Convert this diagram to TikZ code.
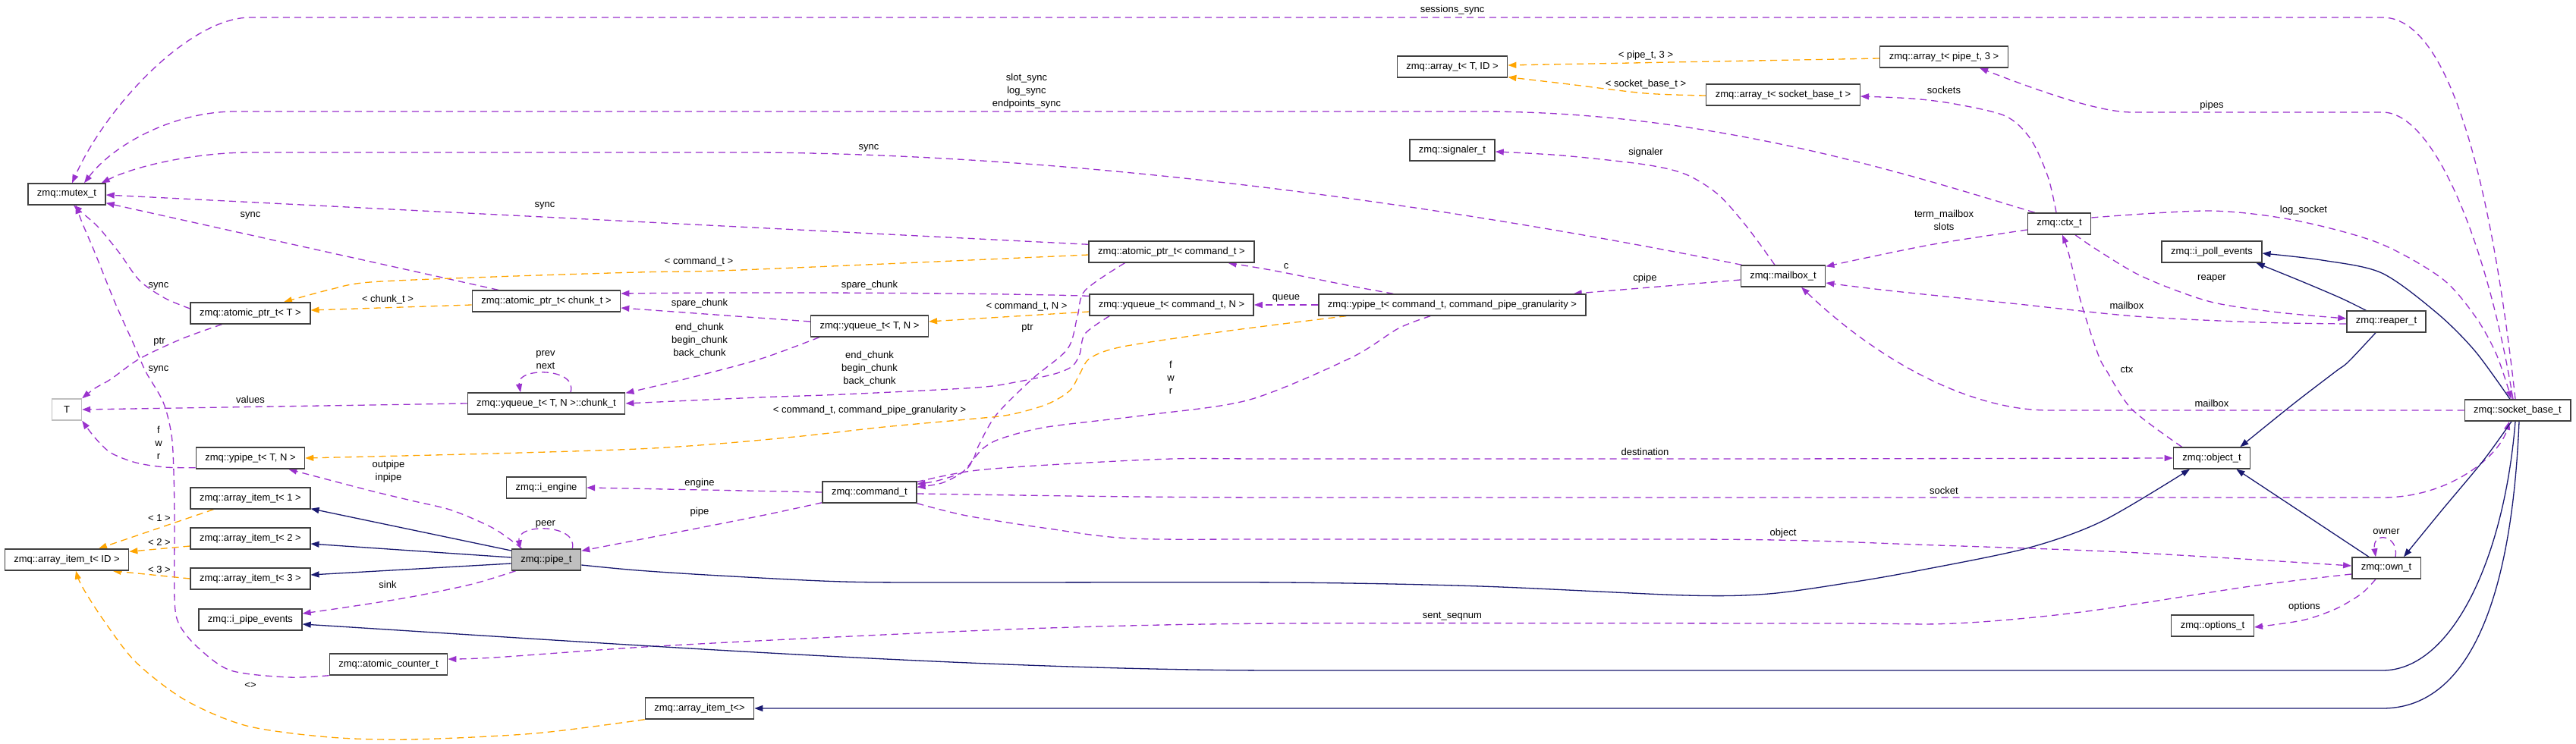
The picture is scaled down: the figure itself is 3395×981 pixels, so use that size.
\documentclass[tikz,border=0pt]{standalone}
\usepackage{fontspec}
\setmainfont{Liberation Sans}
\usetikzlibrary{arrows.meta,calc}
\definecolor{usecol}{HTML}{9A32CD}
\definecolor{tmplcol}{HTML}{FFA500}
\definecolor{inhcol}{HTML}{191970}
\definecolor{boxcol}{HTML}{404040}
\pgfdeclarelayer{bgfill}
\pgfdeclarelayer{edges}
\pgfsetlayers{bgfill,edges,main}
\tikzset{
  cls/.style={draw=boxcol, line width=1.4pt, fill=white, minimum height=28pt,
    inner xsep=12pt, inner ysep=0pt, font=\fontsize{13}{17.5}\selectfont},
  lbl/.style={font=\fontsize{13}{17}\selectfont, align=center, inner sep=0pt},
  tipA/.style={-{Triangle[length=11pt,width=8pt]}},
  use/.style={draw=usecol, line width=1.3pt, dash pattern=on 9pt off 6pt, tipA},
  tmpl/.style={draw=tmplcol, line width=1.3pt, dash pattern=on 9pt off 6pt, tipA},
  inh/.style={draw=inhcol, line width=1.3pt, tipA},
  sm/.style={smooth, tension=0.5}
}
\begin{document}
\begin{tikzpicture}[x=1pt,y=-1pt]
\begin{pgfonlayer}{bgfill}
\fill[white] (0,0) rectangle (3395,981);
\end{pgfonlayer}
\useasboundingbox (0,0) rectangle (3395,981);

% ---------- nodes ----------
\node[cls] (mutex) at (88,256) {zmq::mutex\_t};
\node[cls, draw=gray!50, minimum width=39pt] (T) at (88,540) {T};
\node[cls] (aitemID) at (88,738) {zmq::array\_item\_t< ID >};
\node[cls] (aptrT) at (330,413) {zmq::atomic\_ptr\_t< T >};
\node[cls] (ypipeT) at (330,604) {zmq::ypipe\_t< T, N >};
\node[cls] (ai1) at (330,657) {zmq::array\_item\_t< 1 >};
\node[cls] (ai2) at (330,710) {zmq::array\_item\_t< 2 >};
\node[cls] (ai3) at (330,763) {zmq::array\_item\_t< 3 >};
\node[cls] (ipe) at (330,817) {zmq::i\_pipe\_events};
\node[cls] (acnt) at (512,876) {zmq::atomic\_counter\_t};
\node[cls] (aptrchunk) at (720,397) {zmq::atomic\_ptr\_t< chunk\_t >};
\node[cls] (chunk) at (720,532) {zmq::yqueue\_t< T, N >::chunk\_t};
\node[cls] (iengine) at (720,643) {zmq::i\_engine};
\node[cls, fill=gray!50] (pipe) at (720,738) {zmq::pipe\_t};
\node[cls] (yqT) at (1146,430) {zmq::yqueue\_t< T, N >};
\node[cls] (command) at (1146,649) {zmq::command\_t};
\node[cls] (aitem) at (922,934) {zmq::array\_item\_t<>};
\node[cls] (aptrcmd) at (1544,332) {zmq::atomic\_ptr\_t< command\_t >};
\node[cls] (yqcmd) at (1544,402) {zmq::yqueue\_t< command\_t, N >};
\node[cls] (ypipecmd) at (1914,402) {zmq::ypipe\_t< command\_t, command\_pipe\_granularity >};
\node[cls] (arrayTID) at (1914,88) {zmq::array\_t< T, ID >};
\node[cls] (signaler) at (1914,198) {zmq::signaler\_t};
\node[cls] (arraysock) at (2350,125) {zmq::array\_t< socket\_base\_t >};
\node[cls] (mailbox) at (2350,364) {zmq::mailbox\_t};
\node[cls] (arraypipe) at (2562,75) {zmq::array\_t< pipe\_t, 3 >};
\node[cls] (ctx) at (2714,295) {zmq::ctx\_t};
\node[cls] (ipoll) at (2915,332) {zmq::i\_poll\_events};
\node[cls] (reaper) at (3145,424) {zmq::reaper\_t};
\node[cls] (socketbase) at (3318,541) {zmq::socket\_base\_t};
\node[cls] (object) at (2915,604) {zmq::object\_t};
\node[cls] (own) at (3145,749) {zmq::own\_t};
\node[cls] (options) at (2916,825) {zmq::options\_t};

% ---------- edges ----------
\begin{pgfonlayer}{edges}
% usage (purple)
\draw[use] ($(socketbase.north)+(-3,0)$) .. controls (3290,300) and (3240,23) .. (3140,23) -- (330,23) .. controls (250,23) and (140,140) .. ($(mutex.north)+(7,0)$);
\draw[use] ($(ctx.north west)+(10,0)$) .. controls (2500,225) and (2250,147) .. (1950,147) -- (310,147) .. controls (230,147) and (150,190) .. ($(mutex.north)+(23,0)$);
\draw[use] ($(mailbox.north west)+(2,0)$) .. controls (2000,290) and (1500,205) .. (1000,201) -- (330,201) .. controls (260,201) and (180,218) .. ($(mutex.north east)+(-6,0)$);
\draw[use] ($(aptrcmd.north west)+(0,5)$) -- ($(mutex.east)+(0,1)$);
\draw[use] ($(aptrchunk.north west)+(35,0)$) -- ($(mutex.south east)+(0,-3)$);
\draw[use] plot[sm] coordinates {($(aptrT.west)+(0,-6)$) (217,393) (184,370) (157,333) (130,300) (110,282) ($(mutex.south)+(9,0)$)};
\draw[use] plot[sm] coordinates {(acnt.south west) (380,893) (304,884) (260,853) (236,823) (230,790) (230,690) (229,623) (226,573) (215,530) (192,490) (179,460) (152,400) (125,333) (108,293) ($(mutex.south)+(12,0)$)};
\draw[use] plot[sm] coordinates {($(aptrT.south west)+(42,0)$) (239,447) (184,473) (146,500) (125,512) (T.north east)};
\draw[use] (chunk.west) -- (T.east);
\draw[use] plot[sm] coordinates {($(ypipeT.south west)+(0,-2)$) (217,616) (179,610) (146,597) (125,577) (T.south east)};
\draw[use] plot[sm] coordinates {($(pipe.north west)+(14,0)$) (651,697) (596,673) (542,660) (488,647) (423,630) ($(ypipeT.south east)+(-22,0)$)};
\draw[use] ($(pipe.north east)+(-12,0)$) .. controls (762,690) and (680,690) .. ($(pipe.north west)+(12,0)$);
\draw[use] plot[sm] coordinates {($(pipe.south west)+(6,0)$) (623,770) (542,787) (461,800) ($(ipe.east)+(0,-8)$)};
\draw[use] ($(yqcmd.north west)+(0,3)$) .. controls (1300,386) and (1000,385) .. ($(aptrchunk.east)+(0,-10)$);
\draw[use] ($(yqT.west)+(0,-6)$) -- ($(aptrchunk.east)+(0,9)$);
\draw[use] plot[sm] coordinates {($(yqT.south west)+(12,0)$) (1003,473) (910,498) ($(chunk.north east)+(0,1)$)};
\draw[use] plot[sm] coordinates {($(yqcmd.south west)+(27,0)$) (1430,440) (1423,467) (1413,483) (1390,493) (1343,503) (1287,511) (1111,520) (1000,524) (chunk.east)};
\draw[use] ($(chunk.north)+(32,0)$) .. controls (762,484) and (680,484) .. ($(chunk.north)+(-34,0)$);
\draw[use] (ypipecmd.west) -- (yqcmd.east);
\draw[use] plot[sm] coordinates {($(ypipecmd.north west)+(99,0)$) (1780,377) (1680,357) ($(aptrcmd.south east)+(-35,0)$)};
\draw[use] plot[sm] coordinates {($(ypipecmd.south west)+(148,0)$) (1843,433) (1780,472) (1647,527) (1513,547) (1380,563) (1320,578) (1297,590) (1285,603) (1268,623) (1241,637) ($(command.north east)+(0,8)$)};
\draw[use] plot[sm] coordinates {($(aptrcmd.south west)+(48,0)$) (1430,383) (1420,417) (1407,460) (1360,500) (1313,547) (1290,587) (1283,605) (1270,622) (1235,634) ($(command.north east)+(0,4)$)};
\draw[use] plot[sm] coordinates {($(command.north east)+(0,1)$) (1280,621) (1382,613) (1545,605) (1690,605) (2300,605) (object.west)};
\draw[use] ($(command.east)+(0,2)$) .. controls (1350,653) and (1500,656) .. (1700,656) -- (3140,656) .. controls (3230,656) and (3295,600) .. ($(socketbase.south)+(-11,0)$);
\draw[use] plot[sm] coordinates {(command.south east) (1274,680) (1382,697) (1491,710) (1690,711) (2222,711) (2385,713) (2525,718) (2799,728) ($(own.west)+(0,-3)$)};
\draw[use] plot[sm] coordinates {($(own.west)+(0,8)$) (2966,773) (2743,807) (2576,822) (2400,822) (1690,822) (1382,828) (1100,840) (850,853) (651,867) ($(acnt.east)+(0,-7)$)};
\draw[use] plot[sm] coordinates {($(own.south)+(-14,0)$) (3112,783) (3078,803) (3034,818) ($(options.east)+(0,2)$)};
\draw[use] ($(own.north)+(12,0)$) .. controls (3162,705) and (3126,700) .. ($(own.north)+(-14,0)$);
\draw[use] plot[sm] coordinates {($(ctx.south)+(21,0)$) (2760,327) (2814,360) (2868,383) (2922,400) (3003,412) ($(reaper.west)+(0,-4)$)};
\draw[use] plot[sm] coordinates {($(reaper.west)+(0,3)$) (2976,425) (2814,417) (2651,400) (2488,383) ($(mailbox.east)+(0,9)$)};
\draw[use] plot[sm] coordinates {($(ctx.west)+(0,8)$) (2543,323) ($(mailbox.north east)+(0,2)$)};
\draw[use] plot[sm] coordinates {($(object.north west)+(12,0)$) (2810,540) (2777,490) (2765,467) (2743,400) (2726,333) ($(ctx.south)+(4,0)$)};
\draw[use] (socketbase.west) -- (2700,541) .. controls (2600,541) and (2480,480) .. ($(mailbox.south)+(24,0)$);
\draw[use] plot[sm] coordinates {($(ctx.north)+(-4,0)$) (2699,233) (2676,183) (2643,153) (2576,137) (2520,130) ($(arraysock.east)+(0,2)$)};
\draw[use] ($(socketbase.north)+(-6,0)$) .. controls (3280,330) and (3210,148) .. (3140,148) -- (2810,148) .. controls (2770,148) and (2700,125) .. ($(arraypipe.south)+(47,0)$);
\draw[use] plot[sm] coordinates {($(ctx.east)+(0,-8)$) (2911,278) (3022,290) (3134,320) (3218,367) (3262,417) (3290,467) ($(socketbase.north)+(-8,0)$)};
\draw[use] plot[sm] coordinates {($(mailbox.north)+(-11,0)$) (2303,300) (2265,257) (2222,230) (2168,217) (2059,205) ($(signaler.east)+(0,2)$)};
\draw[use] ($(mailbox.west)+(0,5)$) -- ($(ypipecmd.north east)+(-17,0)$);
\draw[use] (command.west) -- (iengine.east);
\draw[use] plot[sm] coordinates {($(command.south west)+(0,-1)$) (1003,680) (840,712) ($(pipe.north east)+(0,3)$)};
% template instantiation (orange)
\draw[tmpl] plot[sm] coordinates {($(aptrcmd.west)+(0,4)$) (1165,348) (948,357) (840,359) (651,365) (488,372) (434,382) ($(aptrT.north)+(44,0)$)};
\draw[tmpl] ($(aptrchunk.west)+(0,5)$) -- ($(aptrT.east)+(0,-4)$);
\draw[tmpl] ($(yqcmd.west)+(0,9)$) -- ($(yqT.east)+(0,-6)$);
\draw[tmpl] plot[sm] coordinates {($(ypipecmd.south west)+(37,0)$) (1613,437) (1480,457) (1437,472) (1423,493) (1410,515) (1380,533) (1330,547) (1274,553) (1165,563) (1057,575) (948,585) (840,592) (651,598) (ypipeT.east)};
\draw[tmpl] ($(arraypipe.west)+(0,2)$) -- ($(arrayTID.east)+(0,-2)$);
\draw[tmpl] plot[sm] coordinates {($(arraysock.west)+(0,1)$) (2168,123) (2059,110) ($(arrayTID.south east)+(0,-1)$)};
\draw[tmpl] ($(ai1.south west)+(31,0)$) -- ($(aitemID.north)+(42,0)$);
\draw[tmpl] ($(ai2.west)+(0,10)$) -- ($(aitemID.north east)+(0,4)$);
\draw[tmpl] (ai3.west) -- ($(aitemID.south east)+(-22,0)$);
\draw[tmpl] plot[sm] coordinates {(aitem.south west) (705,967) (542,975) (434,972) (325,957) (244,923) (179,873) (136,817) (108,773) ($(aitemID.south)+(12,0)$)};
% inheritance (dark blue)
\draw[inh] ($(pipe.west)+(0,-12)$) -- ($(ai1.south east)+(0,-1)$);
\draw[inh] ($(pipe.west)+(0,-3)$) -- ($(ai2.east)+(0,7)$);
\draw[inh] ($(pipe.west)+(0,5)$) -- ($(ai3.east)+(0,-5)$);
\draw[inh] plot[sm] coordinates {($(pipe.east)+(0,7)$) (840,752) (948,759) (1111,767) (1274,768) (1690,768) (1951,773) (2222,785) (2331,783) (2439,768) (2525,753) (2671,723) (2771,687) ($(object.south)+(-29,0)$)};
\draw[inh] ($(socketbase.south)+(-3,0)$) .. controls (3300,740) and (3230,884) .. (3140,884) -- (1690,884) .. controls (1300,884) and (800,848) .. ($(ipe.east)+(0,6)$);
\draw[inh] ($(socketbase.south)+(2,0)$) .. controls (3310,800) and (3250,934) .. (3140,934) -- (aitem.east);
\draw[inh] plot[sm] coordinates {($(reaper.south)+(-14,0)$) (3095,477) (3078,490) (3022,533) ($(object.north east)+(-14,0)$)};
\draw[inh] ($(own.north west)+(23,0)$) -- ($(object.south east)+(-19,0)$);
\draw[inh] plot[sm] coordinates {($(socketbase.south)+(-8,0)$) (3273,607) (3218,673) ($(own.north east)+(-23,0)$)};
\draw[inh] plot[sm] coordinates {($(reaper.north west)+(26,0)$) (3085,393) (3031,370) ($(ipoll.south east)+(-8,0)$)};
\draw[inh] plot[sm] coordinates {($(socketbase.north)+(-10,0)$) (3262,463) (3212,413) (3139,360) (3060,343) ($(ipoll.east)+(0,2)$)};
\end{pgfonlayer}

% ---------- labels ----------
\node[lbl] (l1) at (1914,13) {sessions\_sync};
\node[lbl] (l2) at (1353,120) {slot\_sync\\log\_sync\\endpoints\_sync};
\node[lbl] (l3) at (1145,195) {sync};
\node[lbl] (l4) at (718,271) {sync};
\node[lbl] (l5) at (330,284) {sync};
\node[lbl] (l6) at (209,377) {sync};
\node[lbl] (l7) at (921,345) {< command\_t >};
\node[lbl] (l8) at (511,395) {< chunk\_t >};
\node[lbl] (l9) at (210,451) {ptr};
\node[lbl] (l10) at (209,487) {sync};
\node[lbl] (l11) at (719,475) {prev\\next};
\node[lbl] (l12) at (330,527) {values};
\node[lbl] (l13) at (209,584) {f\\w\\r};
\node[lbl] (l14) at (512,622) {outpipe\\inpipe};
\node[lbl] (l15) at (210,683) {< 1 >};
\node[lbl] (l16) at (210,715) {< 2 >};
\node[lbl] (l17) at (210,751) {< 3 >};
\node[lbl] (l18) at (719,691) {peer};
\node[lbl] (l19) at (511,771) {sink};
\node[lbl] (l20) at (330,904) {<>};
\node[lbl] (l21) at (1146,376) {spare\_chunk};
\node[lbl] (l22) at (922,400) {spare\_chunk};
\node[lbl] (l23) at (1353,404) {< command\_t, N >};
\node[lbl] (l24) at (1354,433) {ptr};
\node[lbl] (l25) at (922,449) {end\_chunk\\begin\_chunk\\back\_chunk};
\node[lbl] (l26) at (1146,486) {end\_chunk\\begin\_chunk\\back\_chunk};
\node[lbl] (l27) at (1543,498) {f\\w\\r};
\node[lbl] (l28) at (1146,541) {< command\_t, command\_pipe\_granularity >};
\node[lbl] (l29) at (922,637) {engine};
\node[lbl] (l30) at (922,675) {pipe};
\node[lbl] (l31) at (1695,351) {c};
\node[lbl] (l32) at (1695,393) {queue};
\node[lbl] (l33) at (2169,73) {< pipe\_t, 3 >};
\node[lbl] (l34) at (2169,111) {< socket\_base\_t >};
\node[lbl] (l35) at (2169,201) {signaler};
\node[lbl] (l36) at (2168,367) {cpipe};
\node[lbl] (l37) at (2168,596) {destination};
\node[lbl] (l38) at (2350,703) {object};
\node[lbl] (l39) at (1914,813) {sent\_seqnum};
\node[lbl] (l40) at (2562,119) {sockets};
\node[lbl] (l41) at (2915,139) {pipes};
\node[lbl] (l42) at (2562,290) {term\_mailbox\\slots};
\node[lbl] (l43) at (3036,277) {log\_socket};
\node[lbl] (l44) at (2915,367) {reaper};
\node[lbl] (l45) at (2803,403) {mailbox};
\node[lbl] (l46) at (2803,487) {ctx};
\node[lbl] (l47) at (2915,532) {mailbox};
\node[lbl] (l48) at (2562,647) {socket};
\node[lbl] (l49) at (3145,701) {owner};
\node[lbl] (l50) at (3037,800) {options};
\end{tikzpicture}
\end{document}
